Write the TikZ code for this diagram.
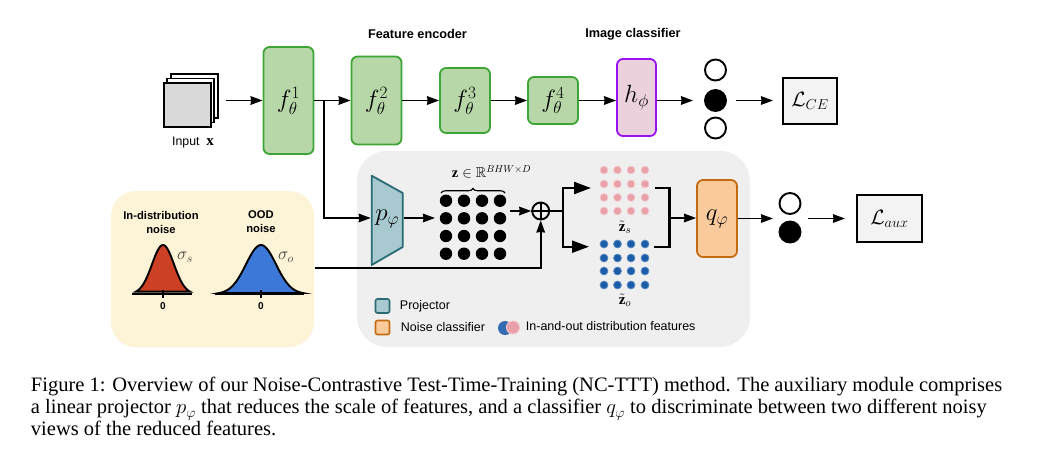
\documentclass[tikz,border=0pt]{standalone}
\usepackage{amsmath,amssymb}
\usepackage{fontspec}
\setmainfont{Liberation Serif}
\setsansfont{Liberation Sans}
\usetikzlibrary{arrows.meta,calc,decorations.pathreplacing,positioning}
\definecolor{encfill}{HTML}{B7D7A8}
\definecolor{encline}{HTML}{3DA535}
\definecolor{clsfill}{HTML}{EAD1DC}
\definecolor{clsline}{HTML}{9B10F0}
\definecolor{projfill}{HTML}{A8C9D0}
\definecolor{projline}{HTML}{2A6A75}
\definecolor{noisefill}{HTML}{F9CB9C}
\definecolor{noiseline}{HTML}{C46A10}
\definecolor{yellowpanel}{HTML}{FDF3D6}
\definecolor{graypanel}{HTML}{EFEFEF}
\definecolor{lossfill}{HTML}{F3F3F3}
\definecolor{redcurve}{HTML}{CC4125}
\definecolor{bluecurve}{HTML}{3C78D8}
\definecolor{pinkdot}{HTML}{E9A0A8}
\definecolor{bluedot}{HTML}{1B5CA8}
\tikzset{
	block/.style={draw,rounded corners=6pt,line width=1.8pt,align=center,inner sep=0pt},
	enc/.style={block,draw=encline,fill=encfill,minimum width=50pt,font=\fontsize{25}{25}\selectfont},
	loss/.style={draw,line width=2pt,fill=lossfill,inner sep=0pt},
	unit/.style={circle,draw,line width=1.9pt,fill=white,minimum size=21pt,inner sep=0pt},
	title/.style={font=\sffamily\bfseries\fontsize{11.2}{14}\selectfont,align=center},
	legend/.style={font=\sffamily\fontsize{12.5}{13}\selectfont,anchor=west,inner sep=0pt},
	swatch/.style={draw,rounded corners=2pt,line width=1.6pt,minimum size=14pt,inner sep=0pt},
	sheet/.style={draw,line width=1.8pt,fill=white,inner sep=0pt},
	wire/.style={line width=1.9pt},
	bigtip/.style={line width=2.2pt,-{Stealth[length=17pt,width=12pt,inset=0pt]}}
}
\begin{document}
\begin{tikzpicture}[x=1pt,y=-1pt,>={Stealth[length=12pt,width=8.5pt,inset=0.5pt]},wire]
	\useasboundingbox (0,0) rectangle (1037,459);
	% panels
	\node[fill=yellowpanel,rounded corners=25pt,minimum width=203pt,minimum height=156pt] (noisepanel) at (212.5,269) {};
	\node[fill=graypanel,rounded corners=30pt,minimum width=393pt,minimum height=196pt] (auxpanel) at (553.5,249) {};

	% input stack
	\node[sheet,minimum width=47pt,minimum height=44pt] (sheet3) at (194.5,96) {};
	\node[sheet,minimum width=47pt,minimum height=44pt] (sheet2) at (190.5,100.5) {};
	\node[sheet,fill=black!15,minimum width=47pt,minimum height=44pt] (sheet1) at (187.5,105) {};
	\node[font=\sffamily\fontsize{12.3}{13}\selectfont] (inputlabel) at (193,143) {Input\; \fontsize{15}{15}\selectfont$\mathbf{x}$};

	% main branch
	\node[enc,minimum height=107pt] (f1) at (288.5,100.5) {$f_\theta^1$};
	\node[enc,minimum height=88pt] (f2) at (376.5,100.5) {$f_\theta^2$};
	\node[enc,minimum height=65pt] (f3) at (465,100.5) {$f_\theta^3$};
	\node[enc,minimum height=47pt,font=\fontsize{23}{23}\selectfont] (f4) at (553,100.5) {$f_\theta^4$};
	\node[block,draw=clsline,fill=clsfill,minimum width=39pt,minimum height=77pt,font=\fontsize{25}{25}\selectfont] (h) at (636.5,97.5) {$h_\phi$};
	\node[unit] (c1) at (715.5,70) {};
	\node[unit,fill=black] (c2) at (715.5,100.5) {};
	\node[unit] (c3) at (715.5,128) {};
	\node[loss,minimum width=54pt,minimum height=46pt,font=\fontsize{19.5}{20}\selectfont] (lce) at (810,100.5) {$\mathcal{L}_{CE}$};
	\node[title,font=\sffamily\bfseries\fontsize{12.7}{14}\selectfont] (enctitle) at (417.5,34) {Feature encoder};
	\node[title,font=\sffamily\bfseries\fontsize{12.7}{14}\selectfont] (clstitle) at (633,34) {Image classifier};

	% noise panel
	\node[title] (idtitle) at (161,222) {In-distribution\\noise};
	\node[title] (oodtitle) at (261,222) {OOD\\noise};
	\draw[line width=1.9pt,fill=redcurve] plot[domain=-27:27,samples=50,smooth] (163+\x,{294-49*exp(-\x*\x/242)}) -- cycle;
	\draw[line width=1.9pt,fill=bluecurve] plot[domain=-42:42,samples=50,smooth] (261+\x,{294-49*exp(-\x*\x/450)}) -- cycle;
	\draw[line width=1.9pt] (132,294) -- (192,294) (163,290) -- (163,298);
	\draw[line width=1.9pt] (215,294) -- (304,294) (261,290) -- (261,298);
	\node[font=\sffamily\bfseries\fontsize{10}{10}\selectfont] (zero1) at (163,306) {0};
	\node[font=\sffamily\bfseries\fontsize{10}{10}\selectfont] (zero2) at (261,306) {0};
	\node[font=\fontsize{18}{18}\selectfont,text=black!75] (sigs) at (185,257) {$\sigma_s$};
	\node[font=\fontsize{18}{18}\selectfont,text=black!75] (sigo) at (286,257) {$\sigma_o$};

	% projector
	\draw[line width=1.8pt,draw=projline,fill=projfill,line join=round] (371.7,175.7) -- (402.7,193) -- (402.7,247) -- (371.7,265) -- cycle;
	\node[minimum width=31pt,inner sep=0pt,font=\fontsize{23}{23}\selectfont] (p) at (387.2,219) {$p_\varphi$};

	% features
	\foreach \i in {446,464,482,500}
		\foreach \j in {200.7,218.3,236,253.7}
			\fill (\i,\j) circle (6.2pt);
	\draw[line width=1.1pt,decorate,decoration={brace,amplitude=4.5pt}] (441,193) -- (505,193);
	\node[font=\fontsize{14.4}{15}\selectfont] (zlabel) at (491.5,172) {$\mathbf{z}\in\mathbb{R}^{BHW\times D}$};
	\coordinate (zin) at (435,218);
	\coordinate (zout) at (510,211);
	\node[circle,draw,line width=1.9pt,minimum size=17pt,inner sep=0pt] (plus) at (540.7,211) {};
	\draw[line width=1.6pt] (plus.north) -- (plus.south) (plus.west) -- (plus.east);

	\foreach \i in {604,617.5,631,645} {
		\foreach \j in {170,184,197.5,211}
			\fill[pinkdot,draw=pinkdot!60!white,line width=0.8pt] (\i,\j) circle (3.9pt);
		\foreach \j in {244,258,271,285}
			\fill[bluedot,draw=bluedot!75!white,line width=0.8pt] (\i,\j) circle (3.9pt);
	}
	\node[font=\fontsize{15}{15}\selectfont] (zs) at (625,227) {$\tilde{\mathbf{z}}_s$};
	\node[font=\fontsize{15}{15}\selectfont] (zo) at (625,300) {$\tilde{\mathbf{z}}_o$};
	\coordinate (split) at (563,211);
	\coordinate (tops) at (591,188);
	\coordinate (tobl) at (589,246.7);
	\coordinate (bracks) at (655,188);
	\coordinate (brackb) at (654,246.7);
	\coordinate (merge) at (669.5,218);

	% noise classifier
	\node[block,draw=noiseline,fill=noisefill,minimum width=40pt,minimum height=77pt,font=\fontsize{24}{24}\selectfont] (q) at (717,218.5) {$q_\varphi$};
	\node[unit] (a1) at (790,203.5) {};
	\node[unit,fill=black] (a2) at (790,232) {};
	\node[loss,minimum width=65pt,minimum height=47pt,font=\fontsize{21}{21}\selectfont] (laux) at (889.5,218.5) {$\mathcal{L}_{aux}$};
	\coordinate (qout) at (773,218.5);
	\coordinate (auxout) at (808,218.5);

	% legend
	\node[swatch,draw=projline,fill=projfill] (sw1) at (382.5,306) {};
	\node[legend] (leg1) at (399,306) {Projector};
	\node[swatch,draw=noiseline,fill=noisefill] (sw2) at (382.5,327.5) {};
	\node[legend] (leg2) at (400,327.5) {Noise classifier};
	\fill[bluedot!90!white] (505,328) circle (7pt);
	\fill[pinkdot,draw=pinkdot!60!white,line width=1pt] (513,327.5) circle (6.5pt);
	\node[legend] (leg3) at (525,326.5) {In-and-out distribution features};

	% arrows
	\path[->]
		($(sheet3.east)+(7,4.5)$) edge (f1.west)
		(f1.east) edge (f2.west)
		(f2.east) edge (f3.west)
		(f3.east) edge (f4.west)
		(f4.east) edge (h.west |- f4)
		(h.east |- f4) edge ($(c2.west)+(-11,0)$)
		($(c2.east)+(9,0)$) edge ($(lce.west)+(-9,0)$)
		(p.east |- zin) edge (zin)
		(zout) edge (plus.west)
		(merge) edge (q.west |- merge)
		(q.east |- qout) edge (qout)
		(auxout) edge ($(laux.west)+(-11,0)$);
	\draw[->] ($(f1.east)+(10,0)$) |- (p.west |- zin);
	\draw[->] (noisepanel.east |- 0,268) -| (plus.south);
	\draw (plus.east) -- (split);
	\draw[bigtip] (split) |- (tops);
	\draw[bigtip] (split) |- (tobl);
	\draw[line width=2.2pt] (bracks) -| (merge) |- (brackb);

	% caption
	\node[anchor=north west,inner sep=0pt,align=left,font=\fontsize{20.5}{22}\selectfont] (caption) at (30,376.5) {Figure 1: Overview of our Noise-Contrastive Test-Time-Training (NC-TTT) method. The auxiliary module comprises\\a linear projector $p_\varphi$ that reduces the scale of features, and a classifier $q_\varphi$ to discriminate between two different noisy\\views of the reduced features.};
\end{tikzpicture}
\end{document}
